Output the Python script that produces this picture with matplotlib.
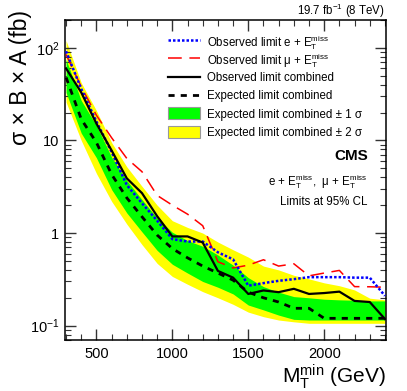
import numpy as np
import matplotlib
matplotlib.use("Agg")
import matplotlib.pyplot as plt
from matplotlib.patches import Rectangle
from matplotlib.lines import Line2D
from matplotlib.ticker import FixedLocator, NullFormatter, LogLocator

plt.rcParams['font.family'] = ['Liberation Sans', 'DejaVu Sans']
plt.rcParams['mathtext.fontset'] = 'custom'
plt.rcParams['mathtext.rm'] = 'Liberation Sans'
plt.rcParams['mathtext.it'] = 'Liberation Sans:italic'
plt.rcParams['mathtext.bf'] = 'Liberation Sans:bold'

# ---- data ----
mt_min = [300, 400, 500, 600, 700, 800, 900, 1000, 1100, 1200, 1300, 1400,
          1500, 1600, 1700, 1800, 1900, 2000, 2100, 2200, 2300, 2400]
obs_e = [92, 36, 16, 7.5, 3.3, 2.1, 1.36, 0.86, 0.81, 0.81, 0.62, 0.52,
         0.27, 0.288, 0.305, 0.318, 0.334, 0.334, 0.334, 0.33, 0.33, 0.21]
obs_mu = [85, 38, 18.7, 10.7, 6.4, 4.6, 2.55, 2.0, 1.6, 1.2, 0.49, 0.42,
          0.45, 0.515, 0.44, 0.466, 0.345, 0.37, 0.395, 0.264, 0.263, 0.26]
obs_comb = [60, 33, 15.2, 7.8, 3.9, 2.7, 1.52, 0.92, 0.92, 0.79, 0.39, 0.33,
            0.22, 0.24, 0.23, 0.25, 0.22, 0.225, 0.233, 0.185, 0.18, 0.118]
exp_comb = [48, 17, 9.5, 4.3, 2.4, 1.5, 0.95, 0.68, 0.54, 0.44, 0.37, 0.31,
            0.23, 0.2, 0.18, 0.154, 0.154, 0.12, 0.12, 0.12, 0.12, 0.12]
exp_1s_hi = [75, 27, 14.5, 6.6, 3.7, 2.3, 1.45, 1.02, 0.83, 0.72, 0.58, 0.45,
             0.33, 0.264, 0.23, 0.206, 0.2, 0.193, 0.19, 0.188, 0.185, 0.185]
exp_1s_lo = [33, 12, 6.5, 2.95, 1.65, 1.03, 0.65, 0.46, 0.37, 0.3, 0.26, 0.22,
             0.167, 0.148, 0.13, 0.117, 0.115, 0.115, 0.115, 0.115, 0.115, 0.115]
exp_2s_hi = [120, 42, 21, 9.5, 5.2, 3.2, 2.0, 1.36, 1.15, 1.0, 0.8, 0.66,
             0.55, 0.44, 0.4, 0.35, 0.32, 0.29, 0.27, 0.243, 0.198, 0.19]
exp_2s_lo = [26, 10, 4.4, 2.2, 1.25, 0.75, 0.47, 0.34, 0.28, 0.233, 0.2, 0.17,
             0.14, 0.125, 0.115, 0.11, 0.106, 0.106, 0.106, 0.106, 0.106, 0.106]
legend_labels = [
    'Observed limit e + E$_\\mathrm{T}^\\mathrm{miss}$',
    'Observed limit μ + E$_\\mathrm{T}^\\mathrm{miss}$',
    'Observed limit combined',
    'Expected limit combined',
    'Expected limit combined ± 1 σ',
    'Expected limit combined ± 2 σ',
]

W, H = 407, 391
fig = plt.figure(figsize=(W / 100, H / 100), dpi=100)
ax = fig.add_axes([65 / W, 1 - 340 / H, (386 - 65) / W, (340 - 20) / H])

styles = {
    'e': dict(color='#0000ff', lw=1.8, ls=(0, (1, 0.8))),
    'mu': dict(color='#ff0000', lw=1.1, ls=(0, (9, 5))),
    'comb': dict(color='black', lw=1.6, ls='-'),
    'exp': dict(color='black', lw=2.0, ls=(0, (2.2, 2.2))),
}

ax.fill_between(mt_min, exp_2s_lo, exp_2s_hi, color='#ffff00', lw=0, zorder=1)
ax.fill_between(mt_min, exp_1s_lo, exp_1s_hi, color='#00ff00', lw=0, zorder=2)
ax.plot(mt_min, exp_comb, zorder=4, **styles['exp'])
ax.plot(mt_min, obs_comb, zorder=5, **styles['comb'])
ax.plot(mt_min, obs_mu, zorder=4, **styles['mu'])
ax.plot(mt_min, obs_e, zorder=4, **styles['e'])

ax.set_yscale('log')
ax.set_xlim(293, 2407)
ax.set_ylim(0.07, 200)

ax.xaxis.set_major_locator(FixedLocator([500, 1000, 1500, 2000]))
ax.xaxis.set_minor_locator(FixedLocator(list(range(300, 2401, 100))))
ax.set_yticks([0.1, 1, 10, 100])
ax.set_yticklabels([r'$10^{-1}$', '1', '10', r'$10^{2}$'])
ax.yaxis.set_minor_locator(LogLocator(base=10, subs=np.arange(2, 10)))
ax.yaxis.set_minor_formatter(NullFormatter())

ax.tick_params(which='both', direction='in', top=True, right=True, labelsize=10.5,
               color='#333333')
ax.tick_params(which='major', length=8, width=1)
ax.tick_params(which='minor', length=4, width=0.8)
ax.tick_params(axis='x', pad=5)
ax.tick_params(axis='y', pad=4)
for s in ax.spines.values():
    s.set_linewidth(1.1)

ax.set_xlabel('M$_\\mathrm{T}^\\mathrm{min}$ (GeV)', fontsize=15, loc='right',
              labelpad=1)
ax.set_ylabel('σ × B × A (fb)', fontsize=16.5, loc='top')
ax.yaxis.set_label_coords((32 - 65) / 321, (340 - 10) / 320)

# manual legend (fixed row spacing like ROOT's TLegend)
rows_y = [40, 58.3, 76.7, 95, 113.3, 131.7]
hx0, hx1, tx = 168, 200, 207
keys = ['e', 'mu', 'comb', 'exp']
for i, k in enumerate(keys):
    y = 1 - rows_y[i] / H
    fig.add_artist(Line2D([hx0 / W, hx1 / W], [y, y], transform=fig.transFigure,
                          **styles[k]))
for i, col in zip([4, 5], ['#00ff00', '#ffff00']):
    y = 1 - rows_y[i] / H
    fig.add_artist(Rectangle((hx0 / W, y - 6 / H), (hx1 - hx0) / W, 12 / H,
                             transform=fig.transFigure, facecolor=col,
                             edgecolor='#999999', lw=0.8))
for i, lab in enumerate(legend_labels):
    fig.text(tx / W, 1 - rows_y[i] / H, lab, ha='left', va='center_baseline',
             fontsize=8.3)

fig.text(368 / W, 1 - 156 / H, 'CMS', ha='right', va='center', fontsize=11,
         fontweight='bold')
fig.text(368 / W, 1 - 182 / H,
         'e + E$_\\mathrm{T}^\\mathrm{miss}$,  μ + E$_\\mathrm{T}^\\mathrm{miss}$',
         ha='right', va='center', fontsize=8.3)
fig.text(368 / W, 1 - 202 / H, 'Limits at 95% CL', ha='right', va='center',
         fontsize=8.3)
fig.text(385 / W, 1 - 11 / H, r'19.7 fb$^{-1}$ (8 TeV)', ha='right', va='center',
         fontsize=8.3)

fig.savefig('out.png', dpi=100)
